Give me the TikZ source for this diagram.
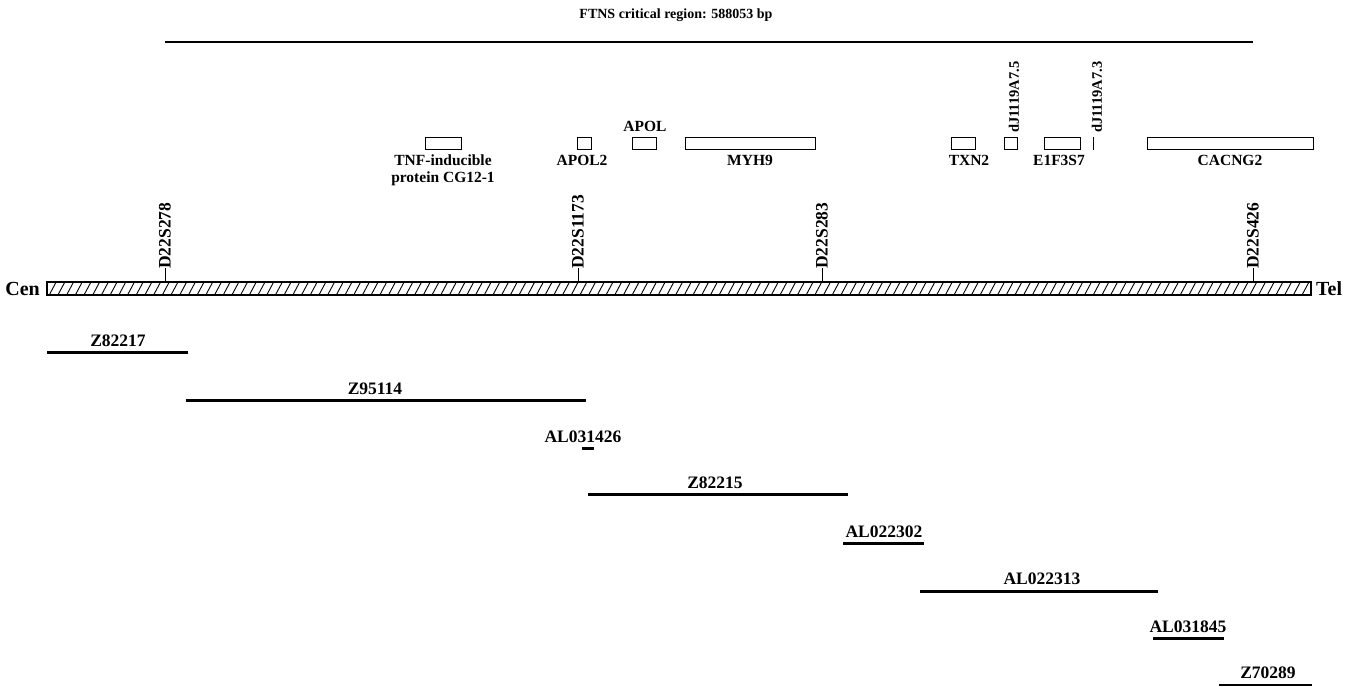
\documentclass[tikz,border=0pt]{standalone}
\usepackage{fontspec}
\setmainfont{Liberation Serif}
\begin{document}
\begin{tikzpicture}[x=1pt,y=-1pt,
  lbl/.style={font=\fontsize{15.5}{15.5}\selectfont\bfseries, inner sep=0pt},
  clbl/.style={font=\fontsize{17.5}{18}\selectfont\bfseries, inner sep=0pt, anchor=base},
  mlbl/.style={font=\fontsize{17.5}{17.5}\selectfont\bfseries, inner sep=0pt, rotate=90, anchor=west},
  glbl/.style={font=\fontsize{14.5}{14.5}\selectfont\bfseries, inner sep=0pt, rotate=90, anchor=west},
  genebox/.style={draw, line width=1pt},
  clone/.style={line width=3pt},
  tick/.style={line width=1pt}]
\useasboundingbox (0,0) rectangle (1353,686);
% title
\node[font=\fontsize{14}{14}\selectfont\bfseries, inner sep=0pt] (title) at (676,15) {FTNS critical region: 588053 bp};
\coordinate (crA) at (165,42);
\coordinate (crB) at (1253,42);
\draw[line width=2pt] (crA) -- (crB);
% genes
\draw[genebox] (425,137) rectangle (461,149);
\node[lbl, align=center, anchor=north] (tnf) at (443,155) {TNF-inducible\\[1pt]protein CG12-1};
\draw[genebox] (577,137) rectangle (591,149);
\node[lbl, anchor=north] (apol2) at (582,155) {APOL2};
\draw[genebox] (632,137) rectangle (656,149);
\node[lbl, anchor=south] (apol) at (645,132) {APOL};
\draw[genebox] (685,137) rectangle (815,149);
\node[lbl, anchor=north] (myh9) at (750,155) {MYH9};
\draw[genebox] (951,137) rectangle (975,149);
\node[lbl, anchor=north] (txn2) at (969,155) {TXN2};
\draw[genebox] (1004,137) rectangle (1017,149);
\node[glbl] (dj5) at (1014,133) {dJ1119A7.5};
\draw[genebox] (1044,137) rectangle (1080,149);
\node[lbl, anchor=north] (e1f) at (1059,155) {E1F3S7};
\coordinate (dj3a) at (1093,137);
\coordinate (dj3b) at (1093,150);
\draw[tick] (dj3a) -- (dj3b);
\node[glbl] (dj3) at (1097,133) {dJ1119A7.3};
\draw[genebox] (1147,137) rectangle (1313,149);
\node[lbl, anchor=north] (cacng2) at (1230,155) {CACNG2};
% chromosome bar
\begin{scope}
\clip (47,282) rectangle (1311,295);
\foreach \i in {0,...,145} {
  \draw[line width=0.9pt] ({40+\i*8.7},296) -- ++(8,-15);
}
\end{scope}
\draw[line width=1.2pt] (47,282) rectangle (1311,295);
\node[font=\fontsize{20}{20}\selectfont\bfseries, inner sep=0pt, anchor=east] (cen) at (40,289) {Cen};
\node[font=\fontsize{20}{20}\selectfont\bfseries, inner sep=0pt, anchor=west] (tel) at (1316,289) {Tel};
% markers
\foreach \x/\t/\n in {165/D22S278/ma, 578/D22S1173/mb, 822/D22S283/mc, 1253/D22S426/md} {
  \draw[tick] (\x,282) -- (\x,268);
  \node[mlbl] (\n) at (\x,269) {\t};
}
% clones
\foreach \a/\b/\y/\t/\n in {47/188/352/Z82217/c1, 186/586/400/Z95114/c2, 582/594/448/AL031426/c3, 588/848/494/Z82215/c4, 843/924/543/AL022302/c5, 920/1158/591/AL022313/c6, 1153/1224/638/AL031845/c7} {
  \draw[clone] (\a,\y) -- (\b,\y);
}
\node[clbl] (l1) at (118,346) {Z82217};
\node[clbl] (l2) at (375,394) {Z95114};
\node[clbl] (l3) at (583,442) {AL031426};
\node[clbl] (l4) at (715,488) {Z82215};
\node[clbl] (l5) at (884,537) {AL022302};
\node[clbl] (l6) at (1042,584) {AL022313};
\node[clbl] (l7) at (1188,632) {AL031845};
\draw[line width=2pt] (1219,685) -- (1312,685);
\node[clbl] (l8) at (1268,678) {Z70289};
\end{tikzpicture}
\end{document}
